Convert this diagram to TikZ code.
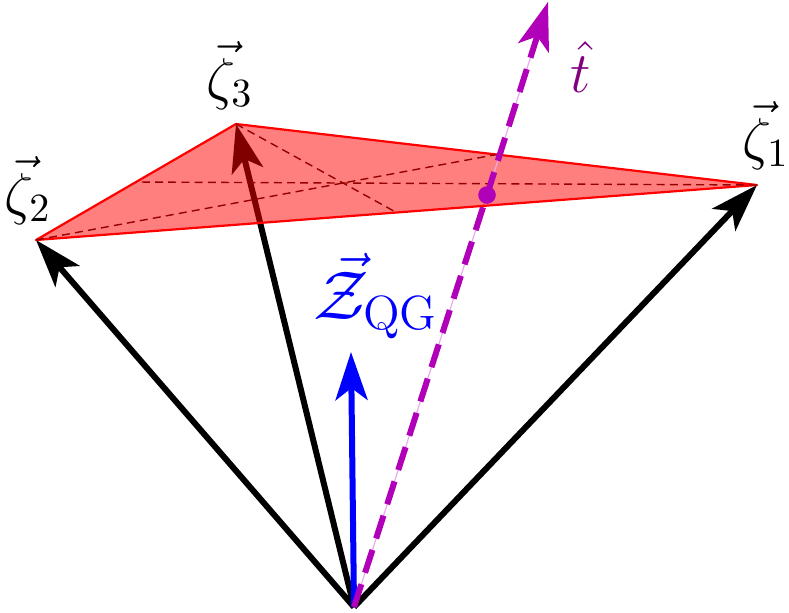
\documentclass[tikz,border=0pt]{standalone}
\usetikzlibrary{arrows.meta,calc}
\definecolor{tline}{RGB}{176,0,184}
\definecolor{tlabel}{RGB}{128,0,128}
\definecolor{tthin}{RGB}{235,170,240}
\definecolor{median}{RGB}{150,0,0}
\begin{document}
\begin{tikzpicture}[x=0.25pt,y=-0.25pt,
  vecarrow/.style={line width=1.5pt,line join=miter,-{Stealth[length=12pt,width=8pt,inset=3pt]}},
  tdash/.style={tline,line width=1.5pt,dash pattern=on 6pt off 3pt},
  medianline/.style={median,line width=0.35pt,dash pattern=on 2pt off 1.3pt},
  lbl/.style={inner sep=0pt,anchor=south}]
\useasboundingbox (0,0) rectangle (789,612);
\coordinate (O) at (354,607);
\coordinate (z1) at (757,185);
\coordinate (z2) at (36,240);
\coordinate (z3) at (236,124);
\coordinate (zq) at (351,352);
\coordinate (tt) at (548,2);
\coordinate (P) at (487,195);
% black vectors
\draw[vecarrow,black] (O) -- (z1);
\draw[vecarrow,black] (O) -- (z2);
\draw[vecarrow,black] (O) -- (z3);
% blue vector
\draw[vecarrow,blue] (O) -- (zq);
% t axis, lower part (behind plane)
\draw[tthin,line width=0.3pt] (O) -- (P);
\draw[tdash] (O) -- (P);
% plane
\draw[red,line width=0.55pt,fill=red,fill opacity=0.5,line join=round] (z1) -- (z2) -- (z3) -- cycle;
\draw[medianline] (z3) -- ($(z1)!0.5!(z2)$);
\draw[medianline] (z1) -- ($(z2)!0.5!(z3)$);
\draw[medianline] (z2) -- ($(z1)!0.5!(z3)$);
% t axis, upper part
\draw[tthin,line width=0.3pt] (P) -- (tt);
\draw[tdash,-{Stealth[length=12pt,width=8pt,inset=3pt]}] (P) -- (tt);
\fill[tline] (P) circle (2.2pt);
% labels
\node[lbl] (l3) at (230,110) {\Large $\vec{\zeta}_3$};
\node[lbl] (l2) at (28,225) {\Large $\vec{\zeta}_2$};
\node[lbl] (l1) at (766,170) {\Large $\vec{\zeta}_1$};
\node[lbl,text=tlabel] (lt) at (581,93) {\Large $\hat{t}$};
\node[lbl,text=blue] (lz) at (376,340) {\LARGE $\vec{\mathcal{Z}}_{\mathrm{QG}}$};
\end{tikzpicture}
\end{document}
